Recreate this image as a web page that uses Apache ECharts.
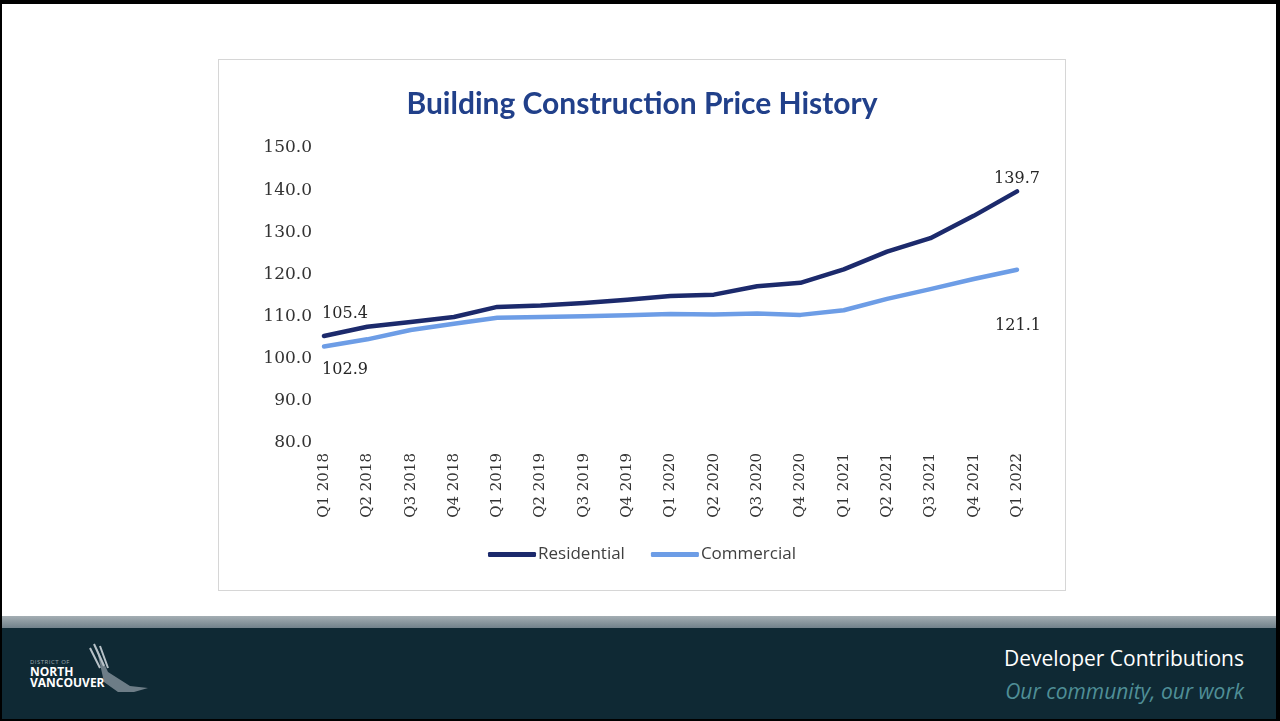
<!DOCTYPE html>
<html>
<head>
<meta charset="utf-8">
<title>Building Construction Price History</title>
<script src="https://cdn.jsdelivr.net/npm/echarts@6/dist/echarts.min.js"></script>
<style>
    html, body { margin: 0; padding: 0; background: #fff; }
    .slide { position: relative; width: 1280px; height: 721px; overflow: hidden; background: #fff; }
    .edge { position: absolute; background: #000; }
    .frame { position: absolute; left: 218px; top: 59px; width: 846px; height: 530px; border: 1px solid #d6d6d6; }
    #chart { position: absolute; left: 218px; top: 59px; width: 848px; height: 532px; }
    .stripe { position: absolute; left: 0; top: 616px; width: 1280px; height: 12px;
              background: linear-gradient(#a4aeb3, #71818a); }
    .footer { position: absolute; left: 0; top: 628px; width: 1280px; height: 93px; background: #0f2934; }
    .f-title { position: absolute; right: 36px; top: 16px; color: #fff; font: 500 21px "Open Sans", sans-serif; }
    .f-sub { position: absolute; right: 36px; top: 49px; color: #4f8f97; font: italic 21px "Open Sans", sans-serif; }
    .logo { position: absolute; left: 30px; top: 30px; color: #fff; font-family: "Open Sans", sans-serif; }
    .logo .small { font-size: 6px; color: #9aa7ad; letter-spacing: 0.5px; }
    .logo .big { font-size: 12px; font-weight: 700; line-height: 11px; }
</style>
</head>
<body>
<div class="slide">
    <div class="frame"></div>
    <div id="chart"></div>
    <div class="stripe"></div>
    <div class="footer">
        <svg style="position:absolute;left:78px;top:14px" width="72" height="60">
            <path d="M18 4 L30 30 L52 44 L70 46 L56 50 L40 50 L26 40 Z" fill="#8d9aa3" opacity="0.75"/>
            <path d="M12 6 L22 26 M16 2 L26 24 M22 4 L30 26" stroke="#b7c1c7" stroke-width="2"/>
        </svg>
        <div class="logo">
            <div class="small">DISTRICT OF</div>
            <div class="big">NORTH</div>
            <div class="big">VANCOUVER</div>
        </div>
        <div class="f-title">Developer Contributions</div>
        <div class="f-sub">Our community, our work</div>
    </div>
    <div class="edge" style="left:0;top:0;width:1280px;height:4px"></div>
    <div class="edge" style="left:0;top:0;width:2px;height:721px"></div>
    <div class="edge" style="right:0;top:0;width:4px;height:721px"></div>
    <div class="edge" style="left:0;bottom:0;width:1280px;height:2px"></div>
</div>
<script>
    // quarters on the x axis
    var quarters = ['Q1 2018', 'Q2 2018', 'Q3 2018', 'Q4 2018',
                    'Q1 2019', 'Q2 2019', 'Q3 2019', 'Q4 2019',
                    'Q1 2020', 'Q2 2020', 'Q3 2020', 'Q4 2020',
                    'Q1 2021', 'Q2 2021', 'Q3 2021', 'Q4 2021',
                    'Q1 2022'];
    var residential = [105.4, 107.6, 108.7, 109.9, 112.3, 112.6, 113.2, 114.0,
                       114.9, 115.2, 117.2, 118.0, 121.2, 125.4, 128.6, 133.9, 139.7];
    var commercial = [102.9, 104.6, 106.8, 108.3, 109.7, 109.9, 110.1, 110.3,
                      110.6, 110.5, 110.7, 110.4, 111.5, 114.2, 116.5, 118.9, 121.1];
    var seriesNames = ['Residential', 'Commercial'];

    var myChart = echarts.init(document.getElementById('chart'));

    var labelFont = { fontFamily: 'DejaVu Serif', fontSize: 16, color: '#262626' };

    // only first and last points carry a label
    function endLabels(values, firstPos, lastPos) {
        return values.map(function (v, i) {
            if (i === 0) {
                return { value: v, label: Object.assign({ show: true }, labelFont, firstPos) };
            }
            if (i === values.length - 1) {
                return { value: v, label: Object.assign({ show: true }, labelFont, lastPos) };
            }
            return v;
        });
    }

    var option = {
        animation: false,
        title: {
            text: 'Building Construction Price History',
            left: 'center',
            top: 25,
            textStyle: { fontFamily: 'Lato', fontWeight: 'bold', fontSize: 30, color: '#21408a' }
        },
        legend: {
            data: seriesNames,
            left: 'center',
            top: 482,
            itemWidth: 48,
            itemHeight: 5,
            itemGap: 26,
            icon: 'roundRect',
            textStyle: { fontFamily: 'Open Sans', fontSize: 17, color: '#404040', padding: [0, 0, 0, -3] }
        },
        grid: { left: 106, right: 49, top: 89, bottom: 148 },
        xAxis: {
            type: 'category',
            data: quarters,
            boundaryGap: false,
            axisLine: { show: false },
            axisTick: { show: false },
            axisLabel: {
                rotate: 90,
                margin: 10,
                interval: 0,
                fontFamily: 'DejaVu Serif',
                fontSize: 15,
                color: '#333'
            }
        },
        yAxis: {
            type: 'value',
            min: 80,
            max: 150,
            interval: 10,
            axisLine: { show: false },
            axisTick: { show: false },
            splitLine: { show: false },
            axisLabel: {
                margin: 12,
                fontFamily: 'DejaVu Serif',
                fontSize: 17,
                color: '#333',
                formatter: function (v) { return v.toFixed(1); }
            }
        },
        series: [
            {
                name: seriesNames[0],
                type: 'line',
                showSymbol: true,
                symbol: 'circle',
                symbolSize: 0,
                color: '#1c2a6c',
                lineStyle: { width: 4.5, color: '#1c2a6c', cap: 'round', join: 'round' },
                data: endLabels(residential,
                    { position: 'top', offset: [21, -9] },
                    { position: 'top', offset: [0, 0] })
            },
            {
                name: seriesNames[1],
                type: 'line',
                showSymbol: true,
                symbol: 'circle',
                symbolSize: 0,
                color: '#6d9de6',
                lineStyle: { width: 4.5, color: '#6d9de6', cap: 'round', join: 'round' },
                data: endLabels(commercial,
                    { position: 'bottom', offset: [21, 10] },
                    { position: 'bottom', offset: [1, 43] })
            }
        ]
    };
    myChart.setOption(option);
</script>
</body>
</html>
